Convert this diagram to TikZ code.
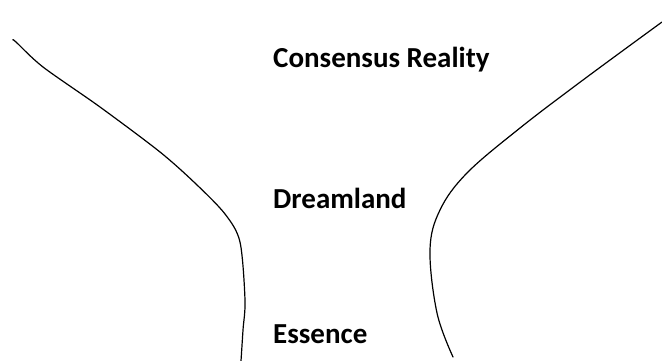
\documentclass[tikz,border=0pt]{standalone}
\usepackage{fontspec}
\setmainfont{Carlito}
\begin{document}
\begin{tikzpicture}[x=1pt,y=-1pt,
  lbl/.style={anchor=base west,inner sep=0pt,font=\fontsize{29}{34}\selectfont\bfseries},
  edge/.style={line width=1.2pt,line cap=round,line join=round}]
\useasboundingbox (0,0) rectangle (662,361);
\node[lbl] (cr) at (273,68) {Consensus Reality};
\node[lbl] (dl) at (273,208) {Dreamland};
\node[lbl] (es) at (273,343) {Essence};
\draw[edge] plot[smooth,tension=0.5] coordinates {(13,40) (16,42) (43,67) (100,107) (160,152) (196,184) (225,214) (240,242) (245,300) (243,330) (241,361)};
\draw[edge] plot[smooth,tension=0.6] coordinates {(662,22) (583,80) (520,128) (467,173) (440,210) (430,250) (437,313) (453,357)};
\end{tikzpicture}
\end{document}
